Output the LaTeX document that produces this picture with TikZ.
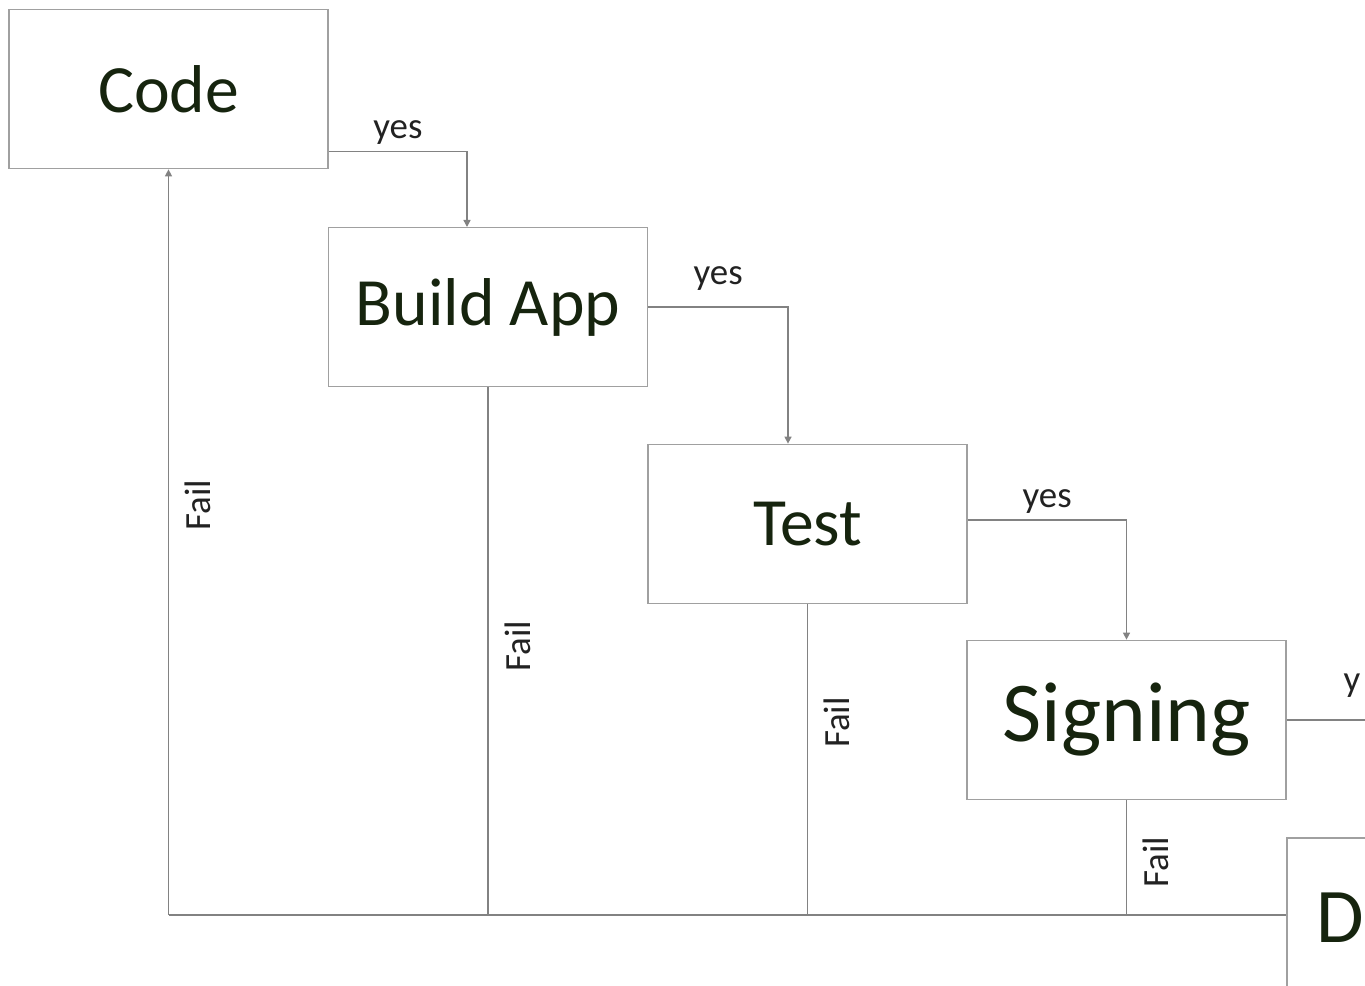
\documentclass[tikz,border=0pt]{standalone}
\usepackage{fontspec}
\setmainfont{Carlito}
\usetikzlibrary{arrows.meta}
\definecolor{boxgray}{RGB}{160,160,160}
\definecolor{linegray}{RGB}{130,130,130}
\definecolor{stagetext}{RGB}{22,36,14}
\definecolor{tagtext}{RGB}{34,34,34}
\tikzset{
    stage/.style={draw=boxgray, line width=1pt, minimum width=6.38cm, minimum height=3.18cm, font=\fontsize{38.5}{40}\selectfont, text=stagetext},
    link/.style={draw=linegray, line width=0.8pt},
    flow/.style={link, -{Triangle[length=4pt,width=4pt]}},
    tag/.style={font=\fontsize{21}{24}\selectfont, text=tagtext},
    fail/.style={tag, rotate=90, anchor=north, inner sep=9pt}
}
\begin{document}
\begin{tikzpicture}[x=0.02cm, y=-0.02cm]
    \useasboundingbox (0,0) rectangle (1365,986);
    \clip (0,0) rectangle (1365,986);
    % stages
    \node[stage] (code) at (168.5,89) {Code};
    \node[stage] (build) at (488,307) {Build App};
    \node[stage] (test) at (807.5,524) {Test};
    \node[stage, font=\fontsize{48.5}{52}\selectfont] (sign) at (1126.5,720) {Signing};
    \node[stage, font=\fontsize{44}{48}\selectfont, anchor=north west, align=left, text width=5.2cm, inner xsep=0.6cm] (deploy) at (1286,837) {D};
    \coordinate (base) at (168.5,915);
    % yes paths
    \draw[flow] ([yshift=0.36cm]code.south east) -| node[tag, above, pos=0.25]{yes} (467,227);
    \draw[flow] (build.east) -| node[tag, above, pos=0.25, yshift=0.2cm]{yes} (test.north -| 788,0);
    \draw[flow] ([yshift=0.08cm]test.east) -| node[tag, above, pos=0.25]{yes} (sign.north);
    \draw[link] (sign.east) -- (1365,720);
    \node[tag] (nexttag) at (1352,686) {y};
    % fail paths
    \draw[flow] (base) -- node[fail, pos=0.55]{Fail} (code.south);
    \draw[link] (build.south) -- node[fail, pos=0.49]{Fail} (build.south |- base);
    \draw[link] (test.south) -- node[fail, pos=0.38]{Fail} (test.south |- base);
    \draw[link] (sign.south) -- node[fail, pos=0.54]{Fail} (sign.south |- base);
    \draw[link] (base) -- (deploy.west |- base);
\end{tikzpicture}
\end{document}
